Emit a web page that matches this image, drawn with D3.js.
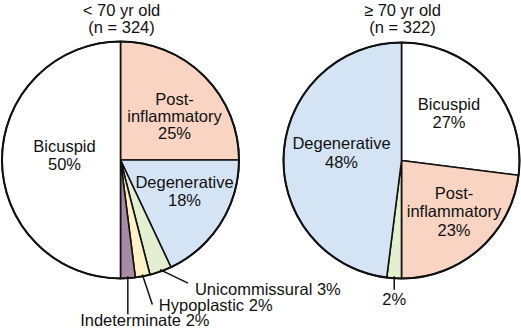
<!DOCTYPE html>
<html>
<head>
<meta charset="utf-8">
<script src="https://cdn.jsdelivr.net/npm/d3@7"></script>
<style>
    body { margin: 0; background: #fff; }
    svg text { font-family: "Liberation Sans", Arial, Helvetica, sans-serif; font-size: 16.5px; fill: #111; }
</style>
</head>
<body>
<svg width="521" height="335"></svg>
<script>
// data
const young_title = ["< 70 yr old", "(n = 324)"];
const young_categories = ["Post-inflammatory", "Degenerative", "Unicommissural", "Hypoplastic", "Indeterminate", "Bicuspid"];
const young_values = [25, 18, 3, 2, 2, 50];

const old_title = ["\u2265 70 yr old", "(n = 322)"];
const old_categories = ["Bicuspid", "Post-inflammatory", "Unicommissural", "Degenerative"];
const old_values = [27, 23, 2, 48];

const colors = {
    "Bicuspid": "#ffffff",
    "Post-inflammatory": "#f9d4c3",
    "Degenerative": "#d4e4f5",
    "Unicommissural": "#e3efd0",
    "Hypoplastic": "#fdf1c5",
    "Indeterminate": "#a88aa4"
};

// label placement, relative to pie centre (inside) or to leader end (outside)
const young_layout = {
    cx: 120.5, cy: 160, r: 118.5,
    inside: {
        "Bicuspid": { x: -56, y: -8, lines: ["Bicuspid"], lh: 18 },
        "Post-inflammatory": { x: 54, y: -55, lines: ["Post-", "inflammatory"], lh: 16.8 },
        "Degenerative": { x: 64, y: 28, lines: ["Degenerative"], lh: 18 }
    },
    outside: {
        "Unicommissural": { lx: 28, ly: 13.5, tx: 7, ty: 11.5, anchor: "start", text: "Unicommissural 3%" },
        "Hypoplastic": { lx: 10, ly: 30, tx: 6.5, ty: 6.5, anchor: "start", text: "Hypoplastic 2%" },
        "Indeterminate": { lx: 0, ly: 38, tx: 17, ty: 12, anchor: "middle", text: "Indeterminate 2%" }
    }
};

const old_layout = {
    cx: 401.5, cy: 160.5, r: 118,
    inside: {
        "Bicuspid": { x: 47.5, y: -50.5, lines: ["Bicuspid"], lh: 18.3 },
        "Post-inflammatory": { x: 52.5, y: 38, lines: ["Post-", "inflammatory"], lh: 18.7 },
        "Degenerative": { x: -60, y: -12, lines: ["Degenerative"], lh: 19 }
    },
    outside: {
        "Unicommissural": { lx: 0, ly: 13.5, tx: 0, ty: 15.5, anchor: "middle", text: "2%" }
    }
};

function render_pie(svg, title, categories, values, layout)
{
    let rows = categories.map((c, i) => ({ name: c, value: values[i] }));
    let pie = d3.pie().sort(null).value(d => d.value);
    let arcs = pie(rows);

    let arc = d3.arc().innerRadius(0).outerRadius(layout.r);
    let edge = d3.arc().innerRadius(layout.r - 2).outerRadius(layout.r - 2);

    let g = svg.append("g")
        .attr("transform", "translate(" + layout.cx + "," + layout.cy + ")");

    g.selectAll("path")
        .data(arcs)
        .enter()
        .append("path")
            .attr("d", arc)
            .style("fill", d => colors[d.data.name])
            .style("stroke", "#111")
            .style("stroke-width", 1.6)
            .style("stroke-linejoin", "round");

    g.append("circle")
        .attr("r", layout.r)
        .style("fill", "none")
        .style("stroke", "#111")
        .style("stroke-width", 2);

    // labels inside the slices
    let inner = arcs.filter(d => layout.inside[d.data.name]);
    let txt = g.selectAll("text.inside")
        .data(inner)
        .enter()
        .append("text")
            .attr("class", "inside")
            .attr("text-anchor", "middle")
            .attr("x", d => layout.inside[d.data.name].x)
            .attr("y", d => layout.inside[d.data.name].y);
    txt.each(function (d) {
        let lay = layout.inside[d.data.name];
        let lines = lay.lines.concat([d.data.value + "%"]);
        let t = d3.select(this);
        lines.forEach((s, i) => {
            t.append("tspan")
                .attr("x", lay.x)
                .attr("dy", i == 0 ? 0 : lay.lh)
                .text(s);
        });
    });

    // leader lines for the thin slices
    let outer = arcs.filter(d => layout.outside[d.data.name]);
    outer.forEach(function (d) {
        let lay = layout.outside[d.data.name];
        let p = edge.centroid(d);
        let q = [p[0] + lay.lx, p[1] + lay.ly];
        g.append("line")
            .attr("x1", p[0]).attr("y1", p[1])
            .attr("x2", q[0]).attr("y2", q[1])
            .style("stroke", "#111")
            .style("stroke-width", 1.5);
        g.append("text")
            .attr("x", q[0] + lay.tx)
            .attr("y", q[1] + lay.ty)
            .attr("text-anchor", lay.anchor)
            .text(lay.text);
    });

    svg.append("text")
        .attr("text-anchor", "middle")
        .attr("x", layout.cx + 1)
        .attr("y", 16)
        .text(title[0]);
    svg.append("text")
        .attr("text-anchor", "middle")
        .attr("x", layout.cx + 1)
        .attr("y", 32.5)
        .text(title[1]);
}

let svg = d3.select("svg");
render_pie(svg, young_title, young_categories, young_values, young_layout);
render_pie(svg, old_title, old_categories, old_values, old_layout);
</script>
</body>
</html>
